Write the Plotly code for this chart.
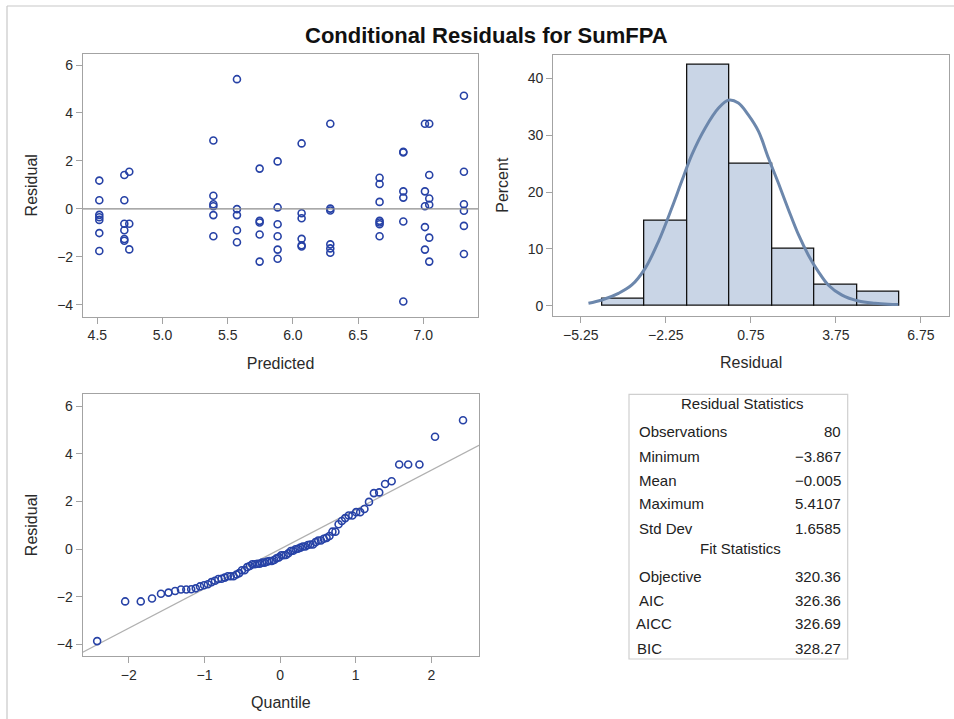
import plotly.graph_objects as go
from statistics import NormalDist

# ---------------- data ----------------
predicted = (
    [4.515] * 7 + [4.707] * 6 + [4.745] * 3 + [5.39] * 6 + [5.571] * 5 +
    [5.745] * 5 + [5.883] * 6 + [6.067] * 6 + [6.287] * 6 + [6.665] * 7 +
    [6.847] * 6 + [7.013] * 5 + [7.046] * 6 + [7.312] * 6
)
residual = [
    1.18, 0.36, -0.25, -0.35, -0.46, -1.01, -1.76,
    1.41, 0.36, -0.62, -0.89, -1.26, -1.33,
    1.55, -0.62, -1.69,
    2.85, 0.55, 0.19, 0.11, -0.26, -1.14,
    5.41, -0.01, -0.26, -0.89, -1.39,
    1.68, -0.50, -0.57, -1.07, -2.20,
    1.98, 0.06, -0.64, -1.14, -1.70, -2.08,
    2.73, -0.18, -0.39, -1.25, -1.52, -1.57,
    3.55, 0.01, -0.07, -1.48, -1.65, -1.83,
    1.30, 1.04, 0.29, -0.50, -0.57, -0.64, -1.14,
    2.38, 2.35, 0.73, 0.47, -0.53, -3.867,
    3.55, 0.73, 0.11, -0.76, -1.70,
    3.55, 1.41, 0.43, 0.17, -1.20, -2.20,
    4.72, 1.55, 0.19, -0.08, -0.71, -1.88,
]

# kernel density curve (percent scale)
kde_x = [-4.98, -4.51, -3.92, -3.45, -2.98, -2.51, -2.04, -1.69, -1.33, -0.86,
         -0.39, -0.04, 0.31, 0.66, 1.02, 1.37, 1.72, 2.07, 2.43, 2.78, 3.13,
         3.48, 3.95, 4.54, 5.13, 5.60, 5.95]
kde_y = [0.42, 1.0, 2.18, 3.65, 6.58, 11.3, 17.2, 21.9, 26.6, 31.3,
         34.8, 36.2, 35.7, 33.6, 30.7, 26.0, 21.6, 17.0, 12.5, 8.9, 6.0,
         3.65, 1.9, 0.83, 0.42, 0.25, 0.2]

hist_ticks = [-5.25, -2.25, 0.75, 3.75, 6.75]

stat_labels = ["Observations", "Minimum", "Mean", "Maximum", "Std Dev"]
stat_values = ["80", "\u22123.867", "\u22120.005", "5.4107", "1.6585"]
fit_labels = ["Objective", "AIC", "AICC", "BIC"]
fit_values = ["320.36", "326.36", "326.69", "328.27"]
res_mean = -0.005
res_std = 1.6585

# ---------------- style ----------------
W, H = 954, 719
MARK = "#2742A6"
AX = "#a3a3a3"
TXT = "#2a2a2a"
FONT = "Liberation Sans"


def px(x):
    return x / W


def py(y):
    return 1 - y / H


def axis(domain, rng, title, **kw):
    d = dict(domain=domain, range=rng, showline=True, linecolor=AX, linewidth=1.2,
             mirror=True, ticks="outside", ticklen=6, tickcolor=AX, showgrid=False,
             zeroline=False, tickfont=dict(family=FONT, size=14, color=TXT),
             title=dict(text=title, font=dict(family=FONT, size=16, color=TXT)))
    d.update(kw)
    return d


fig = go.Figure()

# residual vs predicted
fig.add_trace(go.Scatter(x=predicted, y=residual, mode="markers", xaxis="x", yaxis="y",
                         marker=dict(symbol="circle-open", size=7, color=MARK,
                                     line=dict(width=1.6, color=MARK)),
                         showlegend=False))

# histogram
fig.add_trace(go.Histogram(x=residual, xaxis="x2", yaxis="y2", histnorm="percent",
                           xbins=dict(start=-4.5, end=6.0, size=1.5),
                           marker=dict(color="#C9D5E6", line=dict(color="#111111", width=1.3)),
                           showlegend=False))
fig.add_trace(go.Scatter(x=kde_x, y=kde_y, mode="lines", xaxis="x2", yaxis="y2",
                         line=dict(color="#6C87AC", width=3, shape="spline"),
                         showlegend=False))

# Q-Q plot
n = len(residual)
sorted_res = sorted(residual)
nd = NormalDist()
quant = [nd.inv_cdf((i + 1 - 0.375) / (n + 0.25)) for i in range(n)]
qx_range = [-2.61, 2.63]
fig.add_trace(go.Scatter(x=qx_range, y=[res_mean + res_std * q for q in qx_range],
                         mode="lines", xaxis="x3", yaxis="y3",
                         line=dict(color="#b0b0b0", width=1.3), showlegend=False))
fig.add_trace(go.Scatter(x=quant, y=sorted_res, mode="markers", xaxis="x3", yaxis="y3",
                         marker=dict(symbol="circle-open", size=7, color=MARK,
                                     line=dict(width=1.6, color=MARK)),
                         showlegend=False))

fig.update_layout(
    width=W, height=H, margin=dict(l=0, r=0, t=0, b=0),
    paper_bgcolor="white", plot_bgcolor="white",
    xaxis=axis([px(83), px(478)], [4.39, 7.42], "Predicted",
               tickvals=[4.5, 5.0, 5.5, 6.0, 6.5, 7.0], ticktext=["4.5", "5.0", "5.5", "6.0", "6.5", "7.0"],
               anchor="y"),
    yaxis=axis([py(316.5), py(54)], [-4.49, 6.46], "Residual",
               tickvals=[-4, -2, 0, 2, 4, 6], anchor="x"),
    xaxis2=axis([px(553.3), px(949)], [-6.22, 7.74], "Residual",
                tickvals=hist_ticks, ticktext=["\u22125.25", "\u22122.25", "0.75", "3.75", "6.75"],
                anchor="y2"),
    yaxis2=axis([py(315.7), py(54.7)], [-1.76, 44.2], "Percent",
                tickvals=[0, 10, 20, 30, 40], anchor="x2"),
    xaxis3=axis([px(82.7), px(479)], qx_range, "Quantile",
                tickvals=[-2, -1, 0, 1, 2], anchor="y3"),
    yaxis3=axis([py(655.7), py(394.3)], [-4.48, 6.5], "Residual",
                tickvals=[-4, -2, 0, 2, 4, 6], anchor="x3"),
    bargap=0,
)

shapes = [
    # zero reference line in residual plot
    dict(type="line", xref="x domain", yref="y", x0=0, x1=1, y0=0, y1=0,
         line=dict(color="#8c8c8c", width=1.2)),
    # outer frame (top and left)
    dict(type="line", xref="paper", yref="paper", x0=px(7), x1=1, y0=py(6), y1=py(6),
         line=dict(color="#c8c8c8", width=1.2)),
    dict(type="line", xref="paper", yref="paper", x0=px(7), x1=px(7), y0=0, y1=py(6),
         line=dict(color="#c8c8c8", width=1.2)),
    # stats table box
    dict(type="rect", xref="paper", yref="paper", x0=px(629), x1=px(847.7),
         y0=py(659), y1=py(394.3), line=dict(color="#cfcfcf", width=1.2)),
]

TFONT = dict(family=FONT, size=15, color="#222222")
ann = [
    dict(text="Conditional Residuals for SumFPA", x=px(486), y=py(35), xref="paper", yref="paper",
         showarrow=False, xanchor="center", yanchor="middle",
         font=dict(family=FONT, size=22, color="#111111", weight="bold")),
    dict(text="Residual Statistics", x=px(742), y=py(403.3), xref="paper", yref="paper",
         showarrow=False, xanchor="center", yanchor="middle", font=TFONT),
    dict(text="Fit Statistics", x=px(740), y=py(548.3), xref="paper", yref="paper",
         showarrow=False, xanchor="center", yanchor="middle", font=TFONT),
]
stat_y = [431.7, 456, 480, 503.3, 528.3]
for lab, val, yy in zip(stat_labels, stat_values, stat_y):
    ann.append(dict(text=lab, x=px(637), y=py(yy), xref="paper", yref="paper", showarrow=False,
                    xanchor="left", yanchor="middle", font=TFONT))
    ann.append(dict(text=val, x=px(843), y=py(yy), xref="paper", yref="paper", showarrow=False,
                    xanchor="right", yanchor="middle", font=TFONT))
fit_y = [576.7, 600, 623.3, 648.3]
fit_x = [637, 637, 634, 634.5]
for lab, val, yy, xx in zip(fit_labels, fit_values, fit_y, fit_x):
    ann.append(dict(text=lab, x=px(xx), y=py(yy), xref="paper", yref="paper", showarrow=False,
                    xanchor="left", yanchor="middle", font=TFONT))
    ann.append(dict(text=val, x=px(843), y=py(yy), xref="paper", yref="paper", showarrow=False,
                    xanchor="right", yanchor="middle", font=TFONT))

fig.update_layout(shapes=shapes, annotations=ann)
fig.write_html("out.html")
